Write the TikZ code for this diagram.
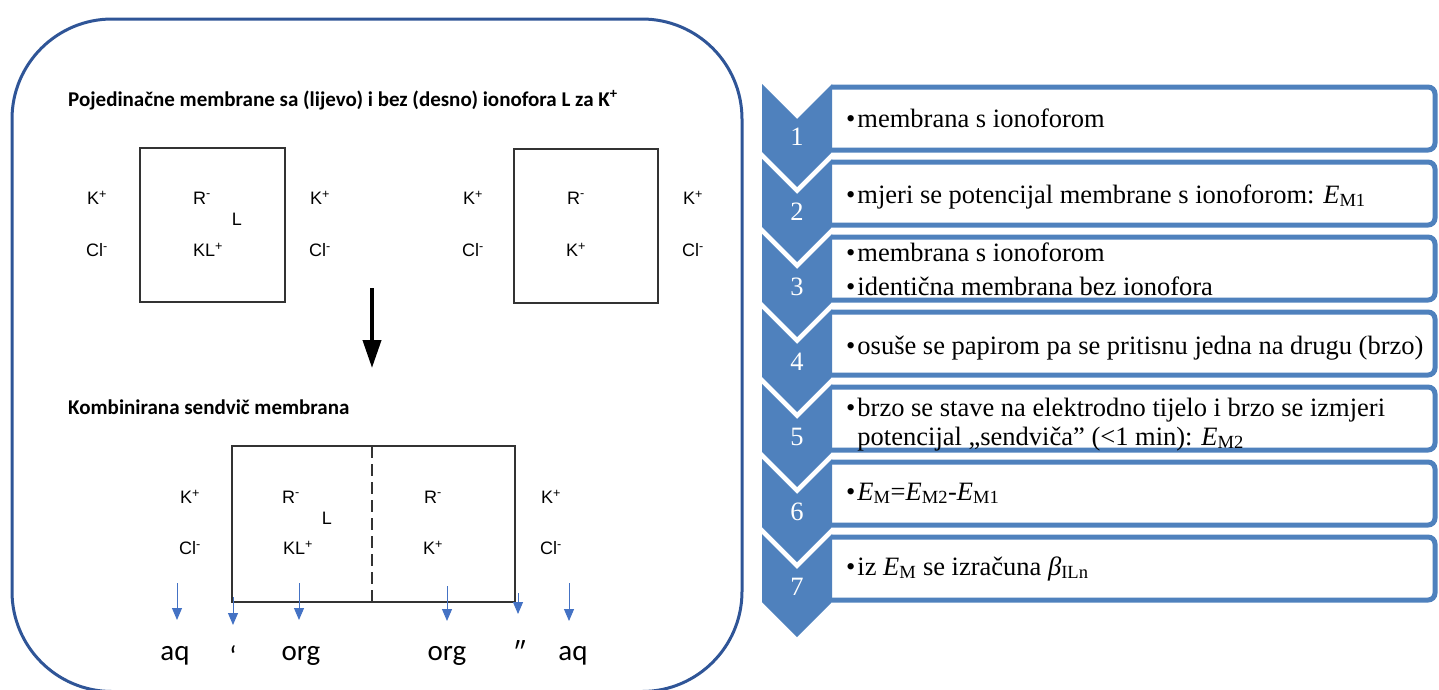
\documentclass[tikz,border=0pt]{standalone}
\usepackage{fontspec}
\setmainfont{Liberation Serif}
\newfontfamily\arialfam{Liberation Sans}
\newfontfamily\calfam{Carlito}
\usepackage{xcolor}
\usepackage{tikz}
\usetikzlibrary{positioning,calc,arrows.meta}

\definecolor{frameblue}{RGB}{47,85,151}
\definecolor{flowblue}{RGB}{68,114,196}
\definecolor{chevblue}{RGB}{79,129,189}

\newcommand{\ionfont}{\arialfam\fontsize{18}{21}\selectfont}
\newcommand{\headfont}{\calfam\bfseries\fontsize{21}{25}\selectfont}
\newcommand{\phasefont}{\calfam\fontsize{29}{34}\selectfont}
\newcommand{\stepfont}{\fontsize{26.5}{30}\selectfont}

\begin{document}
\begin{tikzpicture}[x=1pt,y=-1pt,
    ion/.style={font=\ionfont, inner sep=0pt},
    memb/.style={draw=black!80, line width=1.5pt, inner sep=0pt},
    head/.style={font=\headfont, anchor=west, inner sep=0pt},
    phase/.style={font=\phasefont, inner sep=0pt},
    flow/.style={flowblue, line width=1pt, -{Triangle[width=10pt,length=12pt]}},
    chev/.style={fill=chevblue},
    chevnum/.style={font=\stepfont, text=white, inner sep=0pt},
    stepbox/.style={draw=chevblue, line width=5pt, fill=white, rounded corners=7pt},
    steptxt/.style={font=\stepfont, anchor=base west, inner sep=0pt, align=left}]
    \useasboundingbox (0,0) rectangle (1439,689);

    % left panel frame
    \draw[frameblue, line width=3pt, rounded corners=100pt] (12,19) rectangle (742,691.5);

    % single membranes
    \node[head] (title1) at (68,100) {Pojedinačne membrane sa (lijevo) i bez (desno) ionofora L za K\textsuperscript{+}};

    \node[memb, minimum width=145pt, minimum height=154pt] (memA) at (212.5,225) {};
    \node[ion] (kA1) at (97,198) {K\textsuperscript{+}};
    \node[ion] (clA1) at (97,250) {Cl\textsuperscript{-}};
    \node[ion] (rA) at (202,198) {R\textsuperscript{-}};
    \node[ion] (lA) at (237,219) {L};
    \node[ion] (klA) at (208,250) {KL\textsuperscript{+}};
    \node[ion] (kA2) at (320,198) {K\textsuperscript{+}};
    \node[ion] (clA2) at (320,250) {Cl\textsuperscript{-}};

    \node[memb, minimum width=144pt, minimum height=154pt] (memB) at (586,226) {};
    \node[ion] (kB1) at (473,198) {K\textsuperscript{+}};
    \node[ion] (clB1) at (473,250) {Cl\textsuperscript{-}};
    \node[ion] (rB) at (576,198) {R\textsuperscript{-}};
    \node[ion] (kB) at (576,250) {K\textsuperscript{+}};
    \node[ion] (kB2) at (693,198) {K\textsuperscript{+}};
    \node[ion] (clB2) at (693,250) {Cl\textsuperscript{-}};

    % combining
    \coordinate (down1) at (372,288);
    \coordinate (down2) at (372,368);
    \draw[line width=4pt, -{Triangle[width=18pt,length=28pt]}] (down1) -- (down2);

    % sandwich membrane
    \node[head] (title2) at (68,407) {Kombinirana sendvič membrana};

    \node[memb, minimum width=283pt, minimum height=156pt] (sand) at (373.5,524) {};
    \coordinate (cut1) at (372,446);
    \coordinate (cut2) at (372,602);
    \draw[black!80, line width=1.5pt, dash pattern=on 12pt off 6pt] (cut1) -- (cut2);
    \node[ion] (kS1) at (190,497) {K\textsuperscript{+}};
    \node[ion] (clS1) at (190,548) {Cl\textsuperscript{-}};
    \node[ion] (rS1) at (291,497) {R\textsuperscript{-}};
    \node[ion] (lS) at (327,518) {L};
    \node[ion] (klS) at (298,548) {KL\textsuperscript{+}};
    \node[ion] (rS2) at (433,497) {R\textsuperscript{-}};
    \node[ion] (kS) at (433,548) {K\textsuperscript{+}};
    \node[ion] (kS2) at (551,497) {K\textsuperscript{+}};
    \node[ion] (clS2) at (551,548) {Cl\textsuperscript{-}};

    % phases
    \node[phase] (aq1) at (175,656) {aq};
    \node[phase] (pr1) at (233,656) {‘};
    \node[phase] (org1) at (301,656) {org};
    \node[phase] (org2) at (447,656) {org};
    \node[phase] (pr2) at (520,651) {″};
    \node[phase] (aq2) at (573,656) {aq};
    \coordinate (f1) at (177,583);
    \coordinate (f2) at (233,597);
    \coordinate (f3) at (299,583);
    \coordinate (f4) at (447,586);
    \coordinate (f5) at (518,593);
    \coordinate (f6) at (569,583);
    \draw[flow] (f1) -- (177,620);
    \draw[flow] (f2) -- (233,625);
    \draw[flow] (f3) -- (299,620);
    \draw[flow] (f4) -- (447,621);
    \draw[flow] (f5) -- (518,614);
    \draw[flow] (f6) -- (569,621);

    % steps
    \draw[stepbox] (832,87) -- (1435,87) -- (1435,150) -- (832,150);
    \draw[stepbox] (832,162) -- (1435,162) -- (1435,225) -- (832,225);
    \draw[stepbox] (832,237) -- (1435,237) -- (1435,300) -- (832,300);
    \draw[stepbox] (832,312) -- (1435,312) -- (1435,375) -- (832,375);
    \draw[stepbox] (832,387) -- (1435,387) -- (1435,450) -- (832,450);
    \draw[stepbox] (832,462) -- (1435,462) -- (1435,525) -- (832,525);
    \draw[stepbox] (832,537) -- (1435,537) -- (1435,600) -- (832,600);

    \fill[chev] (762,84) -- ++(35,35) -- ++(35,-35) -- ++(0,68) -- ++(-35,35) -- ++(-35,-35) -- cycle;
    \fill[chev] (762,159) -- ++(35,35) -- ++(35,-35) -- ++(0,68) -- ++(-35,35) -- ++(-35,-35) -- cycle;
    \fill[chev] (762,234) -- ++(35,35) -- ++(35,-35) -- ++(0,68) -- ++(-35,35) -- ++(-35,-35) -- cycle;
    \fill[chev] (762,309) -- ++(35,35) -- ++(35,-35) -- ++(0,68) -- ++(-35,35) -- ++(-35,-35) -- cycle;
    \fill[chev] (762,384) -- ++(35,35) -- ++(35,-35) -- ++(0,68) -- ++(-35,35) -- ++(-35,-35) -- cycle;
    \fill[chev] (762,459) -- ++(35,35) -- ++(35,-35) -- ++(0,68) -- ++(-35,35) -- ++(-35,-35) -- cycle;
    \fill[chev] (762,534) -- ++(35,35) -- ++(35,-35) -- ++(0,68) -- ++(-35,35) -- ++(-35,-35) -- cycle;

    \node[chevnum] (n1) at (797,137) {1};
    \node[chevnum] (n2) at (797,212) {2};
    \node[chevnum] (n3) at (797,287) {3};
    \node[chevnum] (n4) at (797,362) {4};
    \node[chevnum] (n5) at (797,437) {5};
    \node[chevnum] (n6) at (797,512) {6};
    \node[chevnum] (n7) at (797,587) {7};

    \node[steptxt] (t1) at (846,127) {•\hspace{2pt}membrana s ionoforom};
    \node[steptxt] (t2) at (846,203) {•\hspace{2pt}mjeri se potencijal membrane s ionoforom: \textit{E}\textsubscript{M1}};
    \node[steptxt] (t3a) at (846,261) {•\hspace{2pt}membrana s ionoforom};
    \node[steptxt] (t3b) at (846,295) {•\hspace{2pt}identična membrana bez ionofora};
    \node[steptxt] (t4) at (846,354) {•\hspace{2pt}osuše se papirom pa se pritisnu jedna na drugu (brzo)};
    \node[steptxt] (t5) at (846,445) {•\hspace{2pt}brzo se stave na elektrodno tijelo i brzo se izmjeri\\[-1pt]
        \phantom{•\hspace{2pt}}potencijal „sendviča” (<1 min): \textit{E}\textsubscript{M2}};
    \node[steptxt] (t6) at (846,500) {•\hspace{2pt}\textit{E}\textsubscript{M}=\textit{E}\textsubscript{M2}-\textit{E}\textsubscript{M1}};
    \node[steptxt] (t7) at (846,575) {•\hspace{2pt}iz \textit{E}\textsubscript{M} se izračuna \textit{β}\textsubscript{ILn}};
\end{tikzpicture}
\end{document}
